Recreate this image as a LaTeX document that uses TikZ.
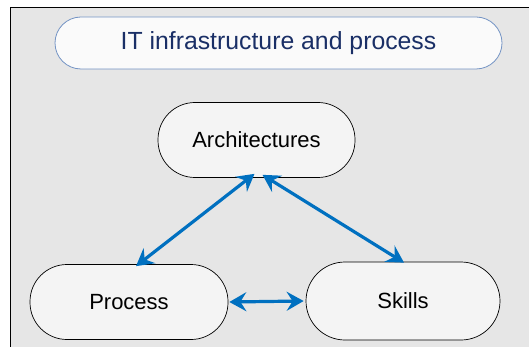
\documentclass[tikz,border=0pt]{standalone}
\usepackage{fontspec}
\setmainfont{Liberation Sans}
\usetikzlibrary{arrows.meta}
\definecolor{frameBg}{HTML}{E6E6E6}
\definecolor{pillFill}{HTML}{F4F4F4}
\definecolor{titleFill}{HTML}{FAFAFA}
\definecolor{titleLine}{HTML}{7393C4}
\definecolor{titleText}{HTML}{1A2F66}
\definecolor{arrowBlue}{HTML}{0070C0}
\tikzset{
  pill/.style={draw=black, line width=0.7pt, fill=pillFill, rounded corners=37pt,
    minimum height=75pt, inner sep=0pt, font=\fontsize{22}{25}\selectfont},
  titlepill/.style={draw=titleLine, line width=0.8pt, fill=titleFill, rounded corners=26pt,
    minimum width=447pt, minimum height=52pt, inner sep=0pt, text=titleText,
    font=\fontsize{24.8}{28}\selectfont},
  link/.style={draw=arrowBlue, line width=3.2pt,
    {Stealth[length=17pt,width=19pt,inset=6pt]}-{Stealth[length=17pt,width=19pt,inset=6pt]}}
}
\begin{document}
\begin{tikzpicture}[x=1pt,y=-1pt]
\useasboundingbox (0,0) rectangle (529,347);
\fill[white] (0,0) rectangle (529,347);
\draw[fill=frameBg, line width=1pt] (10.5,7.5) rectangle (545,365);
\node[titlepill] (title) at (278.5,43) {IT infrastructure and process};
\node[pill, minimum width=197pt] (arch) at (256.5,140) {Architectures};
\node[pill, minimum width=198pt] (proc) at (129,302) {Process};
\node[pill, minimum width=194pt, minimum height=78pt, rounded corners=39pt] (skills) at (403,301) {Skills};
\draw[link] ([xshift=-2pt,yshift=4pt]arch.south) -- ([xshift=7pt,yshift=-2pt]proc.north);
\draw[link] ([xshift=6pt,yshift=3pt]arch.south) -- ([xshift=1pt,yshift=-1pt]skills.north);
\draw[link] ([xshift=1pt]proc.east) -- ([xshift=-2pt]skills.west);
\end{tikzpicture}
\end{document}
